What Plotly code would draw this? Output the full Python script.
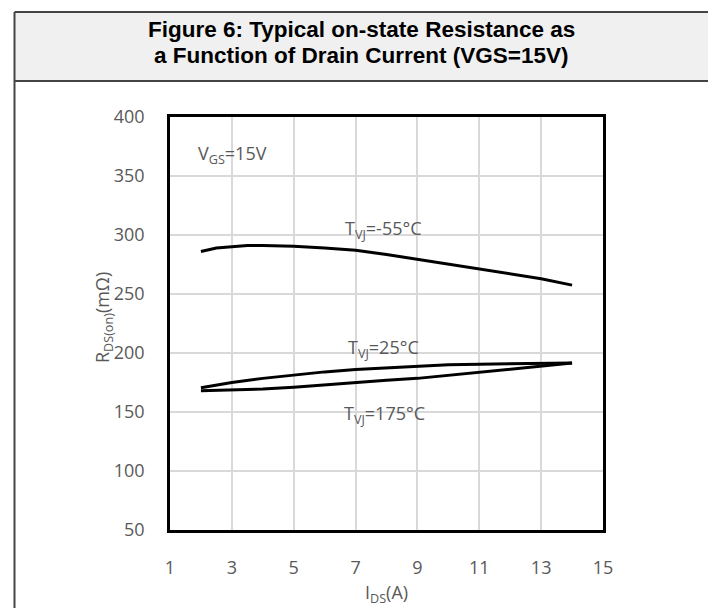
import plotly.graph_objects as go

# Data
ids_m55 = [2, 2.5, 3, 3.5, 4, 5, 6, 7, 8, 9, 10, 11, 12, 13, 14]
rds_m55 = [286, 289, 290, 291, 291, 290.5, 289, 287, 283.5, 279.5, 275.5, 271, 267, 263, 257.5]

ids_25 = [2, 3, 4, 5, 6, 7, 8, 9, 10, 11, 12, 13, 14]
rds_25 = [170.5, 175, 178.5, 181.5, 184, 186, 187.5, 189, 190, 190.5, 191, 191, 191.5]

ids_175 = [2, 3, 4, 5, 6, 7, 8, 9, 10, 11, 12, 13, 14]
rds_175 = [168, 168.5, 169.5, 171, 173, 175.5, 177, 178.5, 181, 184, 186.5, 189, 191.5]

x_ticks = [1, 3, 5, 7, 9, 11, 13, 15]
y_ticks = [50, 100, 150, 200, 250, 300, 350, 400]

W, H = 708, 608
GRAY = "#595959"
FONT = "Open Sans"

fig = go.Figure()
for xs, ys in [(ids_m55, rds_m55), (ids_25, rds_25), (ids_175, rds_175)]:
    fig.add_trace(go.Scatter(x=xs, y=ys, mode="lines",
                             line=dict(color="black", width=3),
                             showlegend=False, hoverinfo="skip"))

def px_x(p):
    return p / W

def px_y(p):
    return 1 - p / H

fig.update_layout(
    width=W, height=H,
    margin=dict(l=0, r=0, t=0, b=0, pad=0, autoexpand=False),
    paper_bgcolor="white", plot_bgcolor="white",
    showlegend=False,
    xaxis=dict(domain=[px_x(170), px_x(603)], range=[1, 15],
               tickvals=x_ticks, showgrid=True, gridcolor="#d9d9d9", gridwidth=1.5,
               showline=True, linecolor="black", linewidth=2.5, mirror=True,
               zeroline=False, ticks="", ticklabelstandoff=20, automargin=False,
               tickfont=dict(family=FONT, size=18, color=GRAY)),
    yaxis=dict(domain=[px_y(530), px_y(117)], range=[50, 400],
               tickvals=y_ticks, showgrid=True, gridcolor="#d9d9d9", gridwidth=1.5,
               showline=True, linecolor="black", linewidth=2.5, mirror=True,
               zeroline=False, ticks="", ticklabelstandoff=19, automargin=False,
               tickfont=dict(family=FONT, size=18, color=GRAY)),
)

# Outer frame and title band
fig.add_shape(type="rect", xref="paper", yref="paper",
              x0=px_x(14.5), x1=1, y0=px_y(81), y1=px_y(12),
              fillcolor="#f0f0f0", line=dict(width=0), layer="below")
fig.add_shape(type="line", xref="paper", yref="paper",
              x0=px_x(14.5), x1=1, y0=px_y(12), y1=px_y(12),
              line=dict(color="#444444", width=2))
fig.add_shape(type="line", xref="paper", yref="paper",
              x0=px_x(14.5), x1=1, y0=px_y(81), y1=px_y(81),
              line=dict(color="#444444", width=2))
fig.add_shape(type="line", xref="paper", yref="paper",
              x0=px_x(14.5), x1=px_x(14.5), y0=0, y1=px_y(12),
              line=dict(color="#444444", width=2))

title_font = dict(family="Liberation Sans", size=22.5, color="black")
fig.add_annotation(xref="paper", yref="paper", x=px_x(361), y=px_y(30),
                   xanchor="center", yanchor="middle",
                   text="<b>Figure 6: Typical on-state Resistance as</b>",
                   showarrow=False, font=title_font)
fig.add_annotation(xref="paper", yref="paper", x=px_x(361), y=px_y(56),
                   xanchor="center", yanchor="middle",
                   text="<b>a Function of Drain Current (VGS=15V)</b>",
                   showarrow=False, font=title_font)

# Axis titles
fig.add_annotation(xref="paper", yref="paper", x=px_x(103), y=px_y(318),
                   xanchor="center", yanchor="middle",
                   text="R<sub>DS(on)</sub>(mΩ)", textangle=-90, showarrow=False,
                   font=dict(family=FONT, size=18, color=GRAY))
fig.add_annotation(xref="paper", yref="paper", x=px_x(386), y=px_y(593),
                   xanchor="center", yanchor="middle",
                   text="I<sub>DS</sub>(A)", showarrow=False,
                   font=dict(family=FONT, size=18, color=GRAY))

# Curve labels
lab_font = dict(family=FONT, size=18, color=GRAY)
fig.add_annotation(x=7.89, y=305, text="T<sub>VJ</sub>=-55°C", showarrow=False, font=lab_font)
fig.add_annotation(x=7.89, y=204, text="T<sub>VJ</sub>=25°C", showarrow=False, font=lab_font)
fig.add_annotation(x=7.92, y=148, text="T<sub>VJ</sub>=175°C", showarrow=False, font=lab_font)
fig.add_annotation(x=1.84, y=368.5, text="V<sub>GS</sub>=15V", showarrow=False,
                   xanchor="left", font=lab_font)

fig.write_html("out.html")
